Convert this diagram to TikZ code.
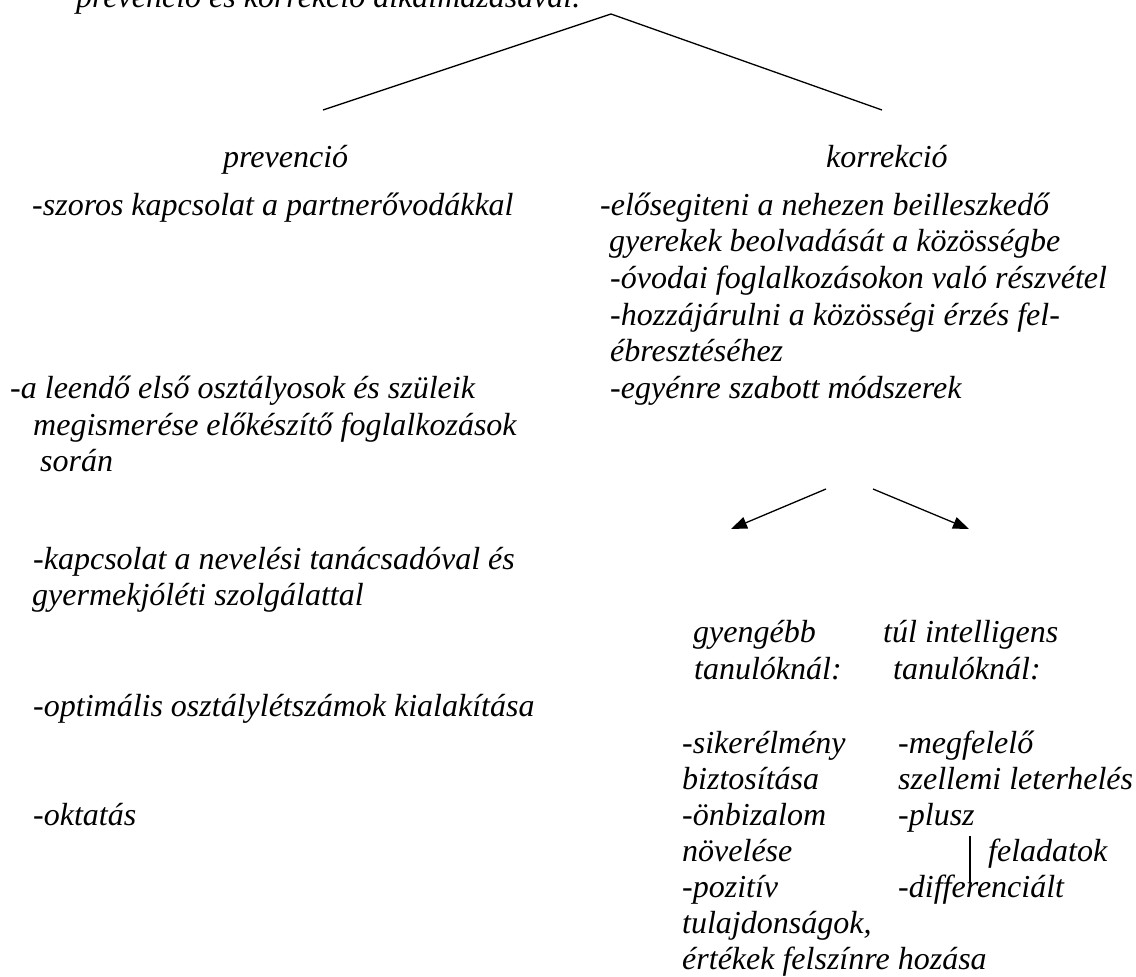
\documentclass[tikz,border=0pt]{standalone}
\usepackage{fontspec}
\setmainfont{Liberation Serif}
\usetikzlibrary{arrows.meta}

\tikzset{
    txt/.style={anchor=base west, inner sep=0pt, font=\fontsize{32}{35}\selectfont\itshape},
    vonal/.style={line width=1.3pt},
    nyil/.style={line width=1.3pt, -{Triangle[length=16pt, width=12pt]}}
}

\begin{document}
\begin{tikzpicture}[x=1pt, y=-1pt]
                        \clip (0, 0) rectangle (1136, 977);
                        % fejlec es a ket ag
                        \node[txt] (fej) at (76, 7) {prevenció és korrekció alkalmazásával.};
                        \coordinate (csucs) at (611, 14);
                        \coordinate (bal) at (323, 110);
                        \coordinate (jobb) at (882, 110);
                        \node[txt] (prev) at (223, 167) {prevenció};
                        \node[txt] (korr) at (826, 167) {korrekció};
                        \draw[vonal] (bal) -- (csucs) -- (jobb);
                        % prevencio
                        \node[txt] (szoros) at (32, 215) {-szoros kapcsolat a partnerővodákkal};
                        \node[txt] (leendo) at (10, 398) {-a leendő első osztályosok és szüleik};
                        \node[txt] (megism) at (33, 435) {megismerése előkészítő foglalkozások};
                        \node[txt] (soran) at (40, 471) {során};
                        \node[txt] (kapcs) at (33, 569) {-kapcsolat a nevelési tanácsadóval és};
                        \node[txt] (gyermekj) at (32, 605) {gyermekjóléti szolgálattal};
                        \node[txt] (optim) at (33, 716) {-optimális osztálylétszámok kialakítása};
                        \node[txt] (oktat) at (33, 825) {-oktatás};
                        % korrekcio
                        \node[txt] (elosegit) at (600, 215) {-elősegiteni a nehezen beilleszkedő};
                        \node[txt] (gyerekek) at (609, 251) {gyerekek beolvadását a közösségbe};
                        \node[txt] (ovodai) at (610, 288) {-óvodai foglalkozásokon való részvétel};
                        \node[txt] (hozza) at (610, 325) {-hozzájárulni a közösségi érzés fel-};
                        \node[txt] (ebreszt) at (610, 361) {ébresztéséhez};
                        \node[txt] (egyenre) at (610, 398) {-egyénre szabott módszerek};
                        \coordinate (nyilbal) at (826, 489);
                        \coordinate (nyiljobb) at (873, 489);
                        \coordinate (hegybal) at (731, 529);
                        \coordinate (hegyjobb) at (969, 529);
                        \draw[nyil] (nyilbal) -- (hegybal);
                        \draw[nyil] (nyiljobb) -- (hegyjobb);
                        \node[txt] (gyenge) at (693, 642) {gyengébb};
                        \node[txt] (gyengeT) at (694, 679) {tanulóknál:};
                        \node[txt] (tulint) at (883, 642) {túl intelligens};
                        \node[txt] (tulintT) at (893, 679) {tanulóknál:};
                        \node[txt] (siker) at (682, 753) {-sikerélmény};
                        \node[txt] (bizt) at (682, 789) {biztosítása};
                        \node[txt] (onbiz) at (682, 825) {-önbizalom};
                        \node[txt] (novel) at (682, 861) {növelése};
                        \node[txt] (pozit) at (682, 897) {-pozitív};
                        \node[txt] (tulajd) at (682, 933) {tulajdonságok,};
                        \node[txt] (ertek) at (682, 969) {értékek felszínre hozása};
                        \node[txt] (megfel) at (898, 753) {-megfelelő};
                        \node[txt] (szellemi) at (898, 789) {szellemi leterhelés};
                        \node[txt] (plusz) at (898, 825) {-plusz};
                        \node[txt] (feladat) at (988, 861) {feladatok};
                        \node[txt] (differ) at (898, 897) {-differenciált};
                        \coordinate (p1) at ([shift={(-5, 4)}]plusz.south east);
                        \coordinate (p2) at ([yshift=14pt]p1 |- differ.base);
                        \draw[vonal] (p1) -- (p2);
                    \end{tikzpicture}
\end{document}
